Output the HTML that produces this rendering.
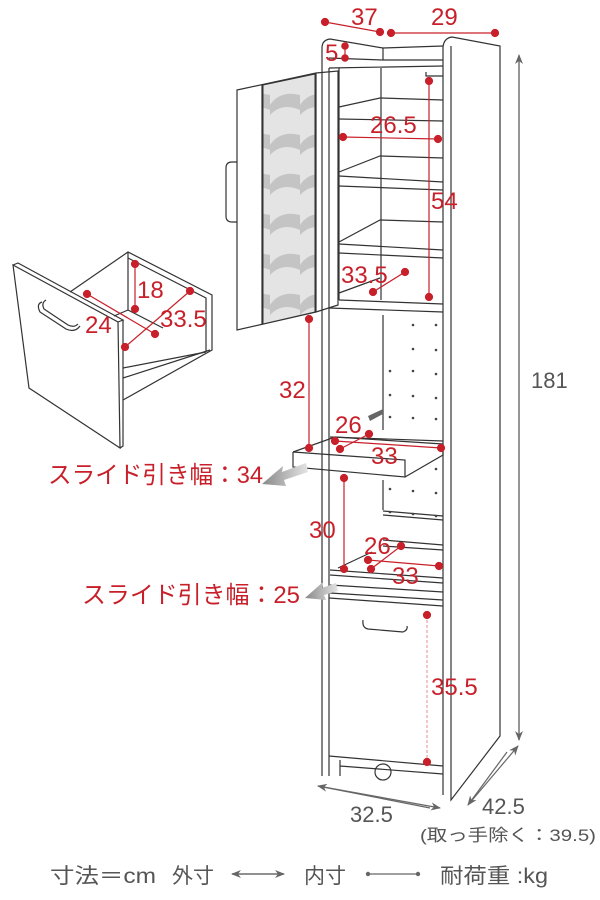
<!DOCTYPE html>
<html><head><meta charset="utf-8"><style>
html,body{margin:0;padding:0;background:#fff;}
svg{display:block;}
.r{fill:#c8202a;font-family:"Liberation Sans","Noto Sans CJK JP",sans-serif;font-size:24px;}
.g{fill:#555;font-family:"Liberation Sans","Noto Sans CJK JP",sans-serif;}
</style></head><body>
<svg width="600" height="900" viewBox="0 0 600 900" xmlns="http://www.w3.org/2000/svg">
<defs>
<marker id="ah" markerWidth="10" markerHeight="8" refX="9" refY="4" orient="auto" markerUnits="userSpaceOnUse"><path d="M0,0 L10,4 L0,8 L3,4 Z" fill="#666"/></marker>
<linearGradient id="sh" x1="1" y1="0" x2="0" y2="0"><stop offset="0" stop-color="#e4e4e4"/><stop offset="1" stop-color="#888"/></linearGradient>
<pattern id="gl" width="30" height="40" patternUnits="userSpaceOnUse"><rect width="30" height="40" fill="#e4e4e4"/><path d="M0,25 Q10,10 30,15 L30,30 Q12,22 0,35Z" fill="#c4c4c4"/></pattern>
</defs>
<g fill="none" stroke="#333" stroke-width="1.2">
<path d="M322,776 L322,48 Q322,40 330,39 L383,48 L443,46"/>
<path d="M329,776 L329,68"/>
<path d="M329,58 L383,60 L443,60"/>
<path d="M329,68 L443,66"/>
<path d="M383,48 L383,60"/>
<path d="M443,795 L443,47 Q444,38 452,37 L500,46 L500,736 L451,800 L451,46"/>
<path d="M381,68 L381,300"/>
<path d="M339,107 L380,98 L443,100"/><path d="M339,119 L443,121"/>
<path d="M339,172 L380,156 L443,158"/><path d="M339,176 L443,182"/><path d="M339,186 L443,190"/>
<path d="M339,242 L380,220 L443,222"/><path d="M339,244 L443,250"/><path d="M339,253 L443,258"/>
<path d="M339,293 L380,278"/><path d="M339,300 L443,304"/><path d="M329,308 L443,312"/>
<path d="M339,68 L339,300"/>
<path d="M426,72 L426,76 L443,76"/>
<path d="M383,315 L383,430"/>
<path d="M383,480 L383,510"/><path d="M383,515 L443,520"/><path d="M383,511 L443,516"/>
<path d="M383,540 L443,545"/><path d="M383,546 L443,550"/>
<path d="M293,452 L293,467 L405,477 L405,460 L293,452"/>
<path d="M293,452 L335,437 L443,444"/>
<path d="M405,477 L443,455 L443,444"/>
<path d="M330,437 L443,441"/>
<path d="M338,568 L372,552"/>
<path d="M330,570 L443,578"/><path d="M330,575 L443,583"/>
<path d="M330,585 L443,592"/><path d="M330,593 L443,600"/>
<path d="M329,598 L443,606"/>
<path d="M329,756 L443,766"/>
<path d="M340,760 L340,776 M340,766 L443,774"/>
<path d="M363,620 Q362,628 368,629 L403,632 Q408,630 407,626"/>
<circle cx="383" cy="772" r="8"/>
<path d="M237,90 L316,73 L338,71 L338,305 L316,312 L237,330 Z"/>
<path d="M262,85 L262,325"/>
<path d="M316,73 L316,312"/>
<path d="M237,162 L232,162 Q226,162 226,168 L226,216 Q226,222 232,222 L237,222"/>
</g>
<polygon points="263,85 315,74 315,312 263,324" fill="url(#gl)" stroke="#333" stroke-width="1"/>
<!-- slide arrows -->
<polygon points="306,463 282,472 283,466 262,484 286,486 284,480 308,472" fill="url(#sh)"/>
<polygon points="336,583 322,588 323,582 305,598 326,600 324,595 338,591" fill="url(#sh)"/>
<polygon points="368,416 383,409 383,414 370,421" fill="#666"/>
<g fill="#444">
<circle cx="413" cy="325" r="1.3"/><circle cx="436" cy="325" r="1.3"/><circle cx="413" cy="349" r="1.3"/><circle cx="436" cy="350" r="1.3"/>
<circle cx="390" cy="371" r="1.3"/><circle cx="413" cy="371" r="1.3"/><circle cx="436" cy="374" r="1.3"/>
<circle cx="390" cy="395" r="1.3"/><circle cx="413" cy="396" r="1.3"/><circle cx="436" cy="398" r="1.3"/>
<circle cx="390" cy="417" r="1.3"/><circle cx="413" cy="418" r="1.3"/><circle cx="436" cy="419" r="1.3"/>
<circle cx="436" cy="469" r="1.3"/><circle cx="390" cy="489" r="1.3"/><circle cx="413" cy="491" r="1.3"/><circle cx="436" cy="493" r="1.3"/>
<circle cx="390" cy="512" r="1.3"/><circle cx="413" cy="514" r="1.3"/><circle cx="436" cy="516" r="1.3"/>
</g>
<!-- left drawer -->
<g fill="none" stroke="#333" stroke-width="1.2">
<path d="M13,265 L118,322 L120,448 L29,388 Z"/>
<path d="M13,265 L18,263 L123,320 L118,322"/>
<path d="M120,448 L123,446 L123,320"/>
<path d="M70,292 L128,252 L212,295 L212,350 L123,400"/>
<path d="M128,252 L128,310 L163,328"/>
<path d="M128,258 L206,298 L206,352"/>
<path d="M114,316 L128,310"/>
<path d="M123,368 L206,352"/>
<path d="M123,378 L210,350"/>
<path d="M42,302 Q36,304 40,312 L66,329 Q75,333 80,326"/>
<path d="M46,300 Q41,303 44,309 L68,325 Q74,328 78,324"/>
</g>
<g stroke="#c8202a" stroke-width="1.2" fill="#c8202a">
<line x1="325" y1="22" x2="380" y2="32"/><circle cx="325" cy="22" r="3.5"/><circle cx="380" cy="32" r="3.5"/>
<line x1="391" y1="33" x2="495" y2="33"/><circle cx="391" cy="33" r="3.5"/><circle cx="495" cy="33" r="3.5"/>
<line x1="345" y1="46" x2="345" y2="58"/><circle cx="345" cy="46" r="3.2"/><circle cx="345" cy="58" r="3.2"/>
<line x1="343" y1="137" x2="438" y2="139"/><circle cx="343" cy="137" r="3.5"/><circle cx="438" cy="139" r="3.5"/>
<line x1="429" y1="81" x2="429" y2="297"/><circle cx="429" cy="81" r="3.5"/><circle cx="429" cy="297" r="3.5"/>
<line x1="373" y1="292" x2="405" y2="272"/><circle cx="373" cy="292" r="3.5"/><circle cx="405" cy="272" r="3.5"/>
<line x1="309" y1="319" x2="309" y2="448"/><circle cx="309" cy="319" r="3.5"/><circle cx="309" cy="448" r="3.5"/>
<line x1="335" y1="441" x2="441" y2="448"/><circle cx="335" cy="441" r="3.5"/><circle cx="441" cy="448" r="3.5"/>
<line x1="340" y1="449" x2="369" y2="434"/><circle cx="340" cy="449" r="3.5"/><circle cx="369" cy="434" r="3.5"/>
<line x1="344" y1="478" x2="344" y2="569"/><circle cx="344" cy="478" r="3.5"/><circle cx="344" cy="569" r="3.5"/>
<line x1="368" y1="560" x2="439" y2="566"/><circle cx="368" cy="560" r="3.5"/><circle cx="439" cy="566" r="3.5"/>
<line x1="371" y1="569" x2="401" y2="546"/><circle cx="371" cy="569" r="3.5"/><circle cx="401" cy="546" r="3.5"/>
<line x1="427" y1="615" x2="427" y2="762" stroke="#e8a0a0" stroke-dasharray="3,2"/><circle cx="427" cy="615" r="3.5"/><circle cx="427" cy="762" r="3.5"/>
<line x1="135" y1="264" x2="135" y2="309"/><circle cx="135" cy="264" r="3.5"/><circle cx="135" cy="309" r="3.5"/>
<line x1="87" y1="294" x2="155" y2="334"/><circle cx="87" cy="294" r="3.5"/><circle cx="155" cy="334" r="3.5"/>
<line x1="125" y1="347" x2="190" y2="291"/><circle cx="125" cy="347" r="3.5"/><circle cx="190" cy="291" r="3.5"/>
</g>
<g class="r">
<text x="351" y="25">37</text><text x="431" y="25">29</text><text x="325" y="61">5</text>
<text x="370" y="133">26.5</text><text x="431" y="209">54</text><text x="341" y="283">33.5</text>
<text x="279" y="398">32</text><text x="335" y="433">26</text><text x="371" y="464">33</text>
<text x="309" y="538">30</text><text x="364" y="554">26</text><text x="392" y="584">33</text>
<text x="431" y="695">35.5</text>
<text x="137" y="298">18</text><text x="85" y="333">24</text><text x="160" y="327">33.5</text>
<text x="48" y="483" textLength="215" lengthAdjust="spacingAndGlyphs">スライド引き幅：34</text>
<text x="82" y="603" textLength="218" lengthAdjust="spacingAndGlyphs">スライド引き幅：25</text>
</g>
<g stroke="#666" stroke-width="1.2" fill="none">
<line x1="519" y1="740" x2="519" y2="55" marker-end="url(#ah)"/>
<line x1="519" y1="60" x2="519" y2="740" marker-end="url(#ah)"/>
<line x1="430" y1="808" x2="318" y2="786" marker-end="url(#ah)"/>
<line x1="318" y1="786" x2="440" y2="808" marker-end="url(#ah)"/>
<line x1="507" y1="752" x2="468" y2="805" marker-end="url(#ah)"/>
<line x1="468" y1="805" x2="518" y2="746" marker-end="url(#ah)"/>
<line x1="232" y1="874" x2="284" y2="874" marker-end="url(#ah)"/>
<line x1="284" y1="874" x2="232" y2="874" marker-end="url(#ah)"/>
<line x1="368" y1="874" x2="418" y2="874"/>
</g>
<circle cx="368" cy="874" r="2.2" fill="#666"/><circle cx="418" cy="874" r="2.2" fill="#666"/>
<g class="g">
<text x="531" y="388" font-size="22">181</text>
<text x="350" y="822" font-size="22">32.5</text>
<text x="482" y="814" font-size="22">42.5</text>
<text x="420" y="841" font-size="17" textLength="176" lengthAdjust="spacingAndGlyphs">(取っ手除く：39.5)</text>
<text x="50" y="883" font-size="21" textLength="106" lengthAdjust="spacingAndGlyphs">寸法＝cm</text>
<text x="172" y="883" font-size="21">外寸</text>
<text x="304" y="883" font-size="21">内寸</text>
<text x="440" y="883" font-size="21" textLength="108" lengthAdjust="spacingAndGlyphs">耐荷重 :kg</text>
</g>
</svg>
</body></html>
